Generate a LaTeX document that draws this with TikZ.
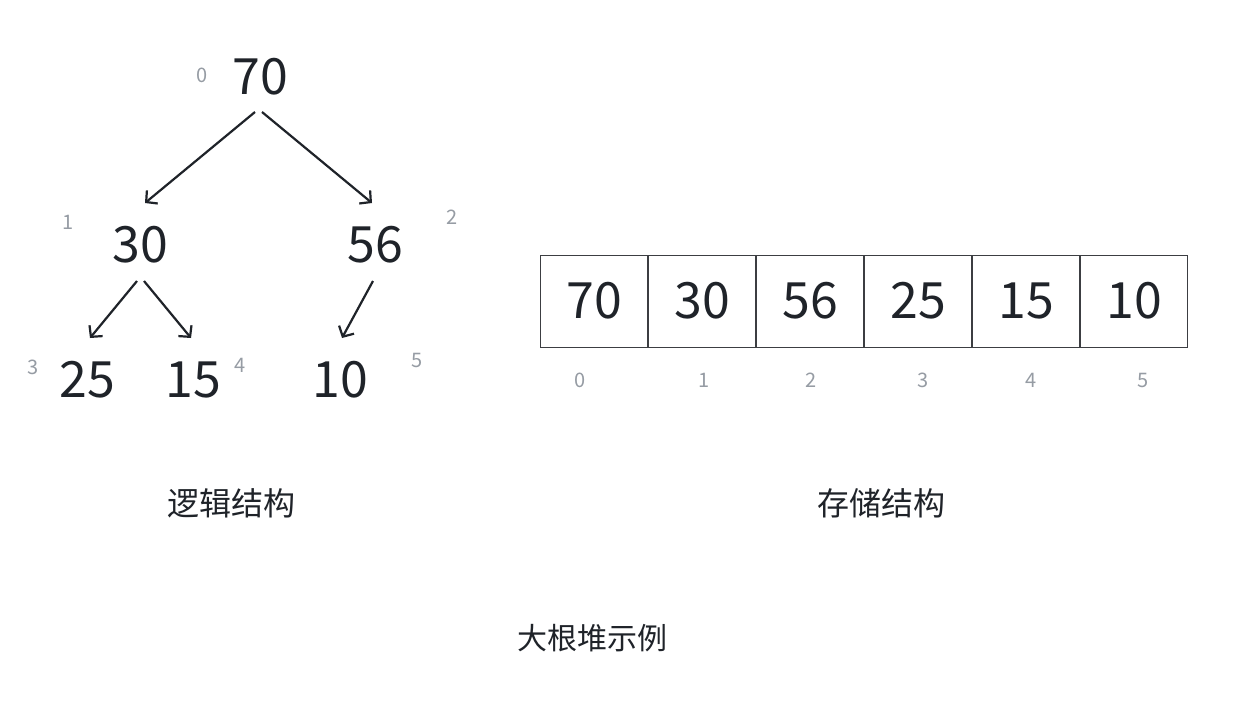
\documentclass[tikz,border=0pt]{standalone}
\usepackage{fontspec}
\setmainfont{Noto Sans CJK SC}
\usepackage{tikz}
\usetikzlibrary{
    arrows.meta,
    calc,
    positioning
}
\definecolor{ink}{RGB}{31,35,41}
\definecolor{muted}{RGB}{150,156,164}
\definecolor{cellline}{RGB}{60,62,66}
\tikzset{
    line cap=round,
    line join=round,
    value/.style={
        font=\fontsize{50}{56}\selectfont,
        text=ink,
        inner sep=0pt
    },
    index/.style={
        font=\fontsize{20}{22}\selectfont,
        text=muted,
        inner sep=0pt
    },
    cell/.style={
        value,
        rectangle,
        draw=cellline,
        line width=1pt,
        minimum width=107pt,
        minimum height=92pt
    },
    caption/.style={
        font=\fontsize{32}{35}\selectfont,
        text=ink,
        inner sep=0pt
    },
    heapedge/.style={
        -{Straight Barb[length=8pt,width=17pt]},
        draw=ink,
        line width=2.2pt
    }
}

\begin{document}
\begin{tikzpicture}[x=1pt, y=-1pt]

\useasboundingbox[fill=white] (0,0) rectangle (1235,713);

% === LEFT: logical structure (tree) ===
\node[value] (n70) at (260,77) {70};
\node[value] (n30) at (140,245) {30};
\node[value] (n56) at (375,245) {56};
\node[value] (n25) at (87,380) {25};
\node[value] (n15) at (193,380) {15};
\node[value] (n10) at (340,380) {10};

\node[index] (t0) at (202,75) {0};
\node[index] (t1) at (68,222) {1};
\node[index] (t2) at (452,217) {2};
\node[index] (t3) at (33,367) {3};
\node[index] (t4) at (240,365) {4};
\node[index] (t5) at (417,360) {5};

\draw[heapedge] ($(n70)+(-5,35)$) -- ($(n30)+(5,-42)$);
\draw[heapedge] ($(n70)+(2,35)$) -- ($(n56)+(-3,-42)$);
\draw[heapedge] ($(n30)+(-3,36)$) -- ($(n25)+(3,-42)$);
\draw[heapedge] ($(n30)+(4,36)$) -- ($(n15)+(-2,-42)$);
\draw[heapedge] ($(n56)+(-2,36)$) -- ($(n10)+(2,-42)$);

\node[caption] (logic) at (231,503) {逻辑结构};

% === RIGHT: storage structure (array) ===
\node[cell] (c0) at (594,301) {70};
\node[cell, right=0pt of c0] (c1) {30};
\node[cell, right=0pt of c1] (c2) {56};
\node[cell, right=0pt of c2] (c3) {25};
\node[cell, right=0pt of c3] (c4) {15};
\node[cell, right=0pt of c4] (c5) {10};

\node[index] (a0) at (580,380) {0};
\node[index] (a1) at (704,380) {1};
\node[index] (a2) at (811,380) {2};
\node[index] (a3) at (923,380) {3};
\node[index] (a4) at (1031,380) {4};
\node[index] (a5) at (1143,380) {5};

\node[caption] (store) at (881,503) {存储结构};

% Title
\node[caption, font=\fontsize{30}{33}\selectfont] (title) at (592,638) {大根堆示例};

\end{tikzpicture}
\end{document}
